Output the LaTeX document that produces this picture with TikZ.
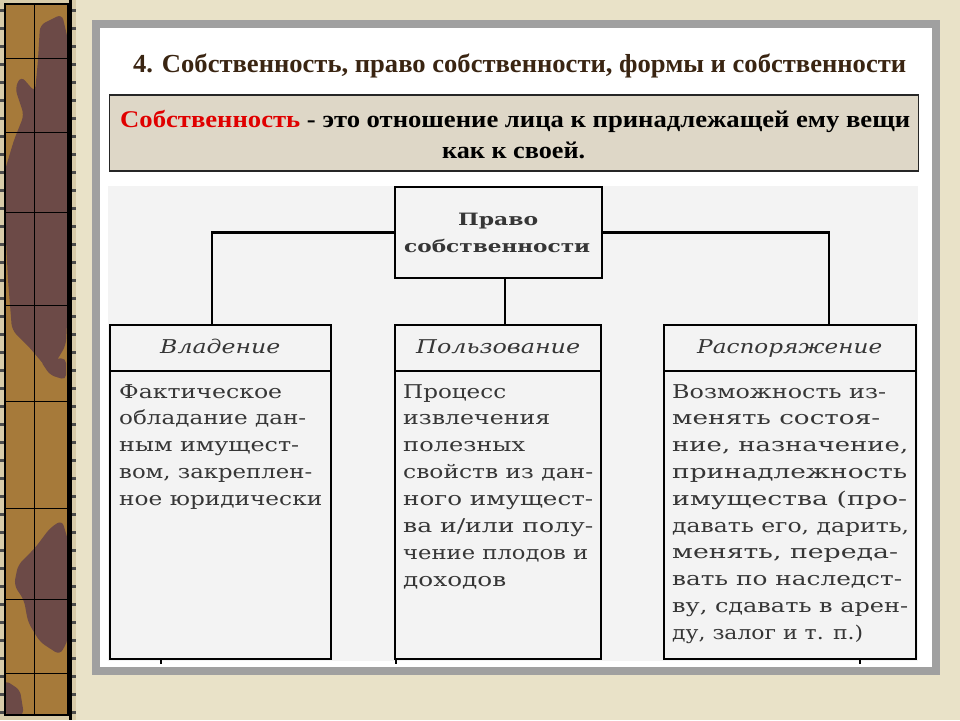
\documentclass[tikz,border=0pt]{standalone}
\usepackage{fontspec}
\usepackage{graphicx}
\setmainfont{Liberation Serif}
\newfontfamily\bodyf{DejaVu Serif}
\definecolor{beige}{HTML}{E9E2C8}
\definecolor{stripbase}{HTML}{A67A3A}
\definecolor{stripdark}{HTML}{6C4A47}
\definecolor{perf}{HTML}{D8CCAA}
\definecolor{framegray}{HTML}{A0A0A0}
\definecolor{panelgray}{HTML}{F3F3F3}
\definecolor{defbg}{HTML}{DED7C7}
\definecolor{titlebrown}{HTML}{3A2512}
\definecolor{defred}{HTML}{E00000}
\definecolor{txtgray}{HTML}{363636}
\tikzset{
  gridline/.style={black, line width=0.9pt},
  boxline/.style={draw=black, line width=2.6pt, fill=panelgray, inner sep=0pt},
  conn/.style={black, line width=2.6pt},
  bodyline/.style={anchor=base west, inner sep=0pt, text=txtgray, font=\bodyf\fontsize{19}{19}\selectfont},
  hdrline/.style={anchor=base west, inner sep=0pt, text=txtgray, font=\bodyf\itshape\fontsize{19}{19}\selectfont},
  topline/.style={anchor=base west, inner sep=0pt, text=txtgray, font=\bodyf\bfseries\fontsize{17}{17}\selectfont},
  defline/.style={anchor=base west, inner sep=0pt, text=black, font=\bfseries\fontsize{24}{24}\selectfont},
}
\begin{document}
\begin{tikzpicture}[x=1pt,y=-1pt]
\useasboundingbox (0,0) rectangle (960,720);
% background
\fill[beige] (0,0) rectangle (960,720);
% left film strip
\fill[perf] (0,0) rectangle (76,720);
\fill[stripbase] (5,4) rectangle (68,715);
\fill[stripdark, rounded corners=6pt] (40,25) -- (62,14) -- (68,40) -- (68,300) -- (66,345) -- (50,372) -- (30,348) -- (12,330) -- (8,280) -- (5,220) -- (5,170) -- (14,140) -- (24,115) -- (15,88) -- (21,76) -- (35,92) -- (38,60) -- cycle;
\fill[stripdark, rounded corners=6pt] (18,565) -- (35,548) -- (50,528) -- (62,520) -- (68,540) -- (68,640) -- (60,655) -- (40,642) -- (28,622) -- (24,600) -- (14,585) -- cycle;
\fill[stripdark, rounded corners=5pt] (5,680) -- (20,690) -- (24,715) -- (5,715) -- cycle;
\fill[stripdark, rounded corners=5pt] (40,360) -- (66,358) -- (66,380) -- (50,375) -- cycle;
\draw[gridline] (34,4) -- (34,715);
\foreach \yy in {58,132,212,305,401,508,599,673}
  \draw[gridline] (5,\yy) -- (68,\yy);
\draw[black, line width=1.2pt] (5,4) rectangle (68,715);
\draw[black, line width=3pt] (70,0) -- (70,720);
\foreach \yy in {9,27,45,63,81,99,117,135,153,171,189,207,225,243,261,279,297,315,333,351,369,387,405,423,441,459,477,495,513,531,549,567,585,603,621,639,657,675,693,711}{
  \fill[black!70] (0,\yy) rectangle (4,\yy+3);
  \fill[black!70] (72,\yy) rectangle (76,\yy+3);
}
% grey frame and white slide
\fill[framegray] (92,20) rectangle (940,675);
\fill[white] (100,28) rectangle (932,667);
% title
\node[anchor=base west, inner sep=0pt, text=titlebrown, font=\bfseries\fontsize{26}{26}\selectfont] (title) at (133,72)
  {\resizebox{773pt}{\height}{4. Собственность, право собственности, формы и собственности}};
% definition box
\node[draw=black!85, line width=1.4pt, fill=defbg, minimum width=809pt, minimum height=76pt, inner sep=0pt] (defbox) at (514,133) {};
\node[defline] (def1) at (120,127)
  {\resizebox{790pt}{\height}{\textcolor{defred}{Собственность} - это отношение лица к принадлежащей ему вещи}};
\node[defline] (def2) at (442,158) {\resizebox{143pt}{\height}{как к своей.}};
% diagram panel
\fill[panelgray] (108,186) rectangle (918,661);
% top box
\node[boxline, minimum width=207pt, minimum height=91pt] (top) at (498.5,232.5) {};
\node[topline] (t1) at (458,225) {\resizebox{80pt}{\height}{Право}};
\node[topline] (t2) at (404,252) {\resizebox{186pt}{\height}{собственности}};
% column boxes
\node[boxline, minimum width=221pt, minimum height=46pt] (hA) at (220.5,348) {};
\node[boxline, minimum width=221pt, minimum height=288pt] (bA) at (220.5,515) {};
\node[boxline, minimum width=206pt, minimum height=46pt] (hB) at (498,348) {};
\node[boxline, minimum width=206pt, minimum height=288pt] (bB) at (498,515) {};
\node[boxline, minimum width=252pt, minimum height=46pt] (hC) at (790,348) {};
\node[boxline, minimum width=252pt, minimum height=288pt] (bC) at (790,515) {};
% connectors
\coordinate (jA) at (212,325);
\coordinate (jB) at (505,325);
\coordinate (jC) at (829,325);
\draw[conn] (top.west) -| (jA);
\draw[conn] (top.east) -| (jC);
\draw[conn] (top.south -| jB) -- (jB);
% small ticks
\draw[black, line width=1.5pt] (161,659) -- (161,664);
\draw[black, line width=1.5pt] (396,659) -- (396,664);
\draw[black, line width=1.5pt] (860,659) -- (860,664);
% headers
\node[hdrline] (hA1) at (160,353) {\resizebox{120pt}{\height}{Владение}};
\node[hdrline] (hB1) at (416,353) {\resizebox{164pt}{\height}{Пользование}};
\node[hdrline] (hC1) at (697,353) {\resizebox{185pt}{\height}{Распоряжение}};
% body texts
\foreach \ww/\tx [count=\i] in {163/{Фактическое}, 187/{обладание дан-}, 180/{ным имущест-}, 193/{вом, закреплен-}, 203/{ное юридически}}
  \node[bodyline] (la\i) at (119,{398+26.9*(\i-1)}) {\resizebox{\ww pt}{\height}{\tx}};
\foreach \ww/\tx [count=\i] in {103/{Процесс}, 147/{извлечения}, 122/{полезных}, 190/{свойств из дан-}, 190/{ного имущест-}, 190/{ва и/или полу-}, 185/{чение плодов и}, 103/{доходов}}
  \node[bodyline] (lb\i) at (403,{398+26.9*(\i-1)}) {\resizebox{\ww pt}{\height}{\tx}};
\foreach \ww/\tx [count=\i] in {214/{Возможность из-}, 208/{менять состоя-}, 236/{ние, назначение,}, 235/{принадлежность}, 235/{имущества (про-}, 237/{давать его, дарить,}, 226/{менять, переда-}, 230/{вать по наследст-}, 236/{ву, сдавать в арен-}, 191/{ду, залог и т. п.)}}
  \node[bodyline] (lc\i) at (672,{398+26.8*(\i-1)}) {\resizebox{\ww pt}{\height}{\tx}};
\end{tikzpicture}
\end{document}
